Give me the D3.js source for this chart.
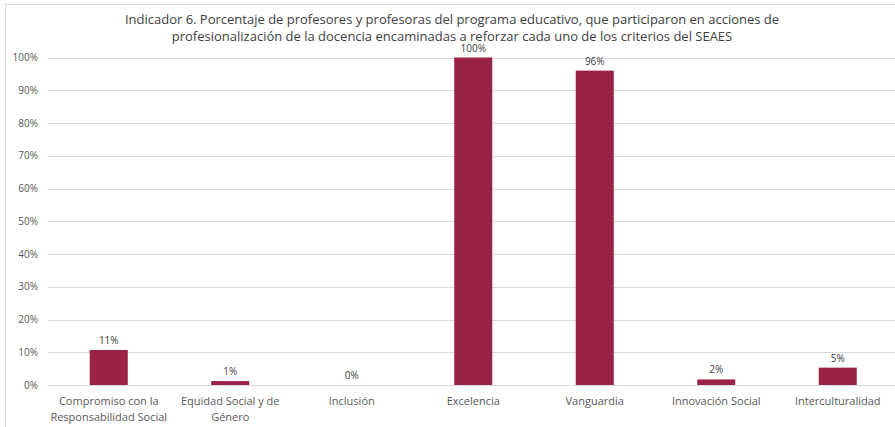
<!DOCTYPE html>
<html>
<head>
<meta charset="utf-8">
<script src="https://cdn.jsdelivr.net/npm/d3@7"></script>
<style>
  body { margin: 0; background: #fff; }
  svg { display: block; font-family: "Open Sans", "Noto Sans", sans-serif; }
</style>
</head>
<body>
<svg id="svg" width="895" height="427"></svg>
<script>
var categories = [
  ['Compromiso con la', 'Responsabilidad Social'],
  ['Equidad Social y de', 'Género'],
  ['Inclusión'],
  ['Excelencia'],
  ['Vanguardia'],
  ['Innovación Social'],
  ['Interculturalidad']
];
var values = [0.107, 0.012, 0, 1.0, 0.96, 0.017, 0.053];
var valueLabels = ['11%', '1%', '0%', '100%', '96%', '2%', '5%'];
var yTicks = [0, 0.1, 0.2, 0.3, 0.4, 0.5, 0.6, 0.7, 0.8, 0.9, 1.0];
var titleLines = [
  'Indicador 6. Porcentaje de profesores y profesoras del programa educativo, que participaron en acciones de',
  'profesionalización de la docencia encaminadas a reforzar cada uno de los criterios del SEAES'
];

var svg = d3.select('svg');

// chart frame
svg.append('rect')
  .attr('x', 5.5)
  .attr('y', 4.5)
  .attr('width', 900)
  .attr('height', 440)
  .attr('fill', 'white')
  .attr('stroke', '#d9d9d9');

var x = d3.scaleBand()
  .domain(d3.range(categories.length))
  .range([48, 898.5])
  .paddingInner(0.687)
  .paddingOuter(0.3435);

var y = d3.scaleLinear()
  .domain([0, 1])
  .range([385, 57.5]);

// gridlines
svg.append('g')
  .selectAll('line')
  .data(yTicks)
  .enter()
  .append('line')
  .attr('x1', 48)
  .attr('x2', 895)
  .attr('y1', function (d) { return Math.round(y(d)) + 0.5; })
  .attr('y2', function (d) { return Math.round(y(d)) + 0.5; })
  .attr('stroke', '#d9d9d9')
  .attr('stroke-width', 1);

// y axis labels
var yAxis = d3.axisLeft(y)
  .tickValues(yTicks)
  .tickFormat(d3.format('.0%'))
  .tickSize(0)
  .tickPadding(10);

var gy = svg.append('g')
  .attr('transform', 'translate(48,0)')
  .call(yAxis);
gy.select('.domain').remove();
gy.selectAll('text')
  .attr('fill', '#595959')
  .attr('font-size', 10)
  .attr('font-family', '"Open Sans", "Noto Sans", sans-serif');

// bars
svg.append('g')
  .selectAll('rect')
  .data(values)
  .enter()
  .append('rect')
  .attr('x', function (d, i) { return x(i); })
  .attr('y', function (d) { return y(d); })
  .attr('width', x.bandwidth())
  .attr('height', function (d) { return y(0) - y(d); })
  .attr('fill', '#9b2247');

// value labels
svg.append('g')
  .selectAll('text')
  .data(values)
  .enter()
  .append('text')
  .attr('x', function (d, i) { return x(i) + x.bandwidth() / 2; })
  .attr('y', function (d) { return y(d) - 6; })
  .attr('text-anchor', 'middle')
  .attr('font-size', 10)
  .attr('fill', '#404040')
  .text(function (d, i) { return valueLabels[i]; });

// category labels
var cat = svg.append('g')
  .selectAll('text')
  .data(categories)
  .enter()
  .append('text')
  .attr('text-anchor', 'middle')
  .attr('font-size', 11)
  .attr('fill', '#595959')
  .attr('x', function (d, i) { return x(i) + x.bandwidth() / 2; })
  .attr('y', 405);

cat.selectAll('tspan')
  .data(function (d) { return d; })
  .enter()
  .append('tspan')
  .attr('x', function () { return d3.select(this.parentNode).attr('x'); })
  .attr('dy', function (d, j) { return j === 0 ? 0 : 15.5; })
  .text(function (d) { return d; });

// title
svg.append('g')
  .selectAll('text')
  .data(titleLines)
  .enter()
  .append('text')
  .attr('x', 452)
  .attr('y', function (d, i) { return 24 + i * 17; })
  .attr('text-anchor', 'middle')
  .attr('font-size', 13)
  .attr('fill', '#404040')
  .text(function (d) { return d; });
</script>
</body>
</html>
